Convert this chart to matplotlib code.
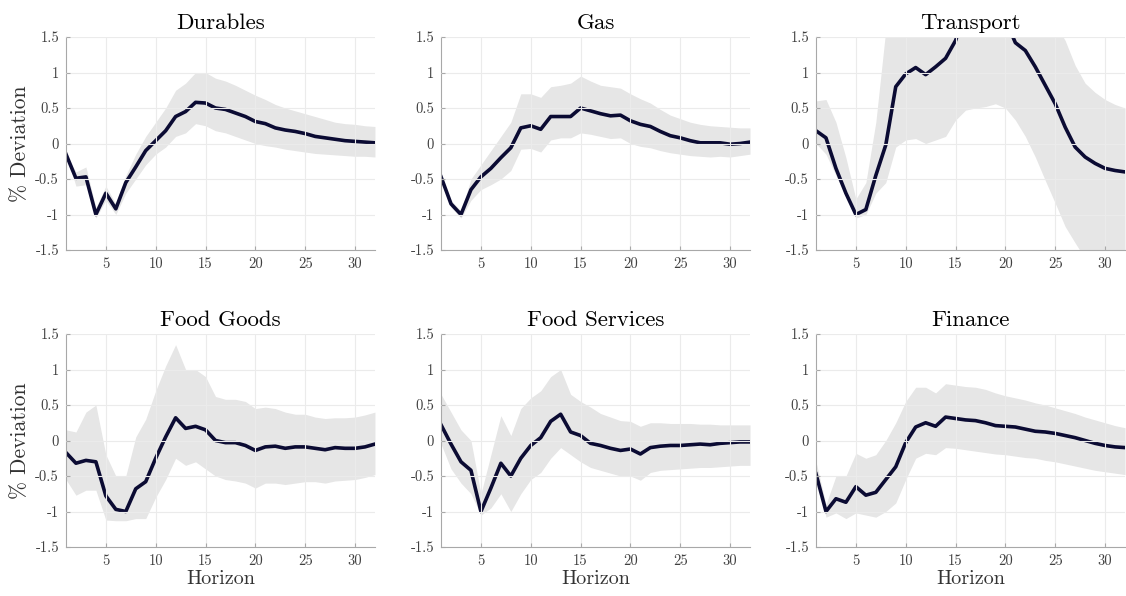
import numpy as np
import matplotlib
matplotlib.use("Agg")
import matplotlib.pyplot as plt

plt.rcParams['font.family'] = ['cmr10', 'DejaVu Serif']
plt.rcParams['axes.unicode_minus'] = False

horizon = np.arange(1, 33)

titles = ["Durables", "Gas", "Transport", "Food Goods", "Food Services", "Finance"]

durables_irf = [-0.15, -0.49, -0.47, -1.0, -0.7, -0.92, -0.55, -0.33, -0.1, 0.04, 0.18, 0.38,
                0.45, 0.58, 0.57, 0.5, 0.48, 0.43, 0.38, 0.31, 0.28, 0.22, 0.19, 0.17,
                0.14, 0.1, 0.08, 0.06, 0.04, 0.03, 0.02, 0.01]
durables_hi = [-0.15, -0.4, -0.33, -0.9, -0.6, -0.85, -0.45, -0.15, 0.1, 0.3, 0.5, 0.75,
               0.85, 1.0, 1.0, 0.92, 0.88, 0.82, 0.75, 0.68, 0.62, 0.55, 0.5, 0.46,
               0.42, 0.38, 0.34, 0.3, 0.28, 0.27, 0.25, 0.24]
durables_lo = [-0.15, -0.6, -0.58, -1.05, -0.8, -1.0, -0.7, -0.5, -0.3, -0.15, -0.05, 0.1,
               0.15, 0.28, 0.25, 0.18, 0.15, 0.1, 0.05, 0.0, -0.03, -0.05, -0.08, -0.1,
               -0.12, -0.14, -0.15, -0.16, -0.17, -0.18, -0.18, -0.19]

gas_irf = [-0.47, -0.85, -1.0, -0.65, -0.47, -0.35, -0.2, -0.06, 0.22, 0.25, 0.2, 0.38,
           0.38, 0.38, 0.5, 0.46, 0.42, 0.39, 0.4, 0.32, 0.27, 0.24, 0.17, 0.11,
           0.08, 0.04, 0.01, 0.01, 0.01, -0.01, 0.0, 0.02]
gas_hi = [-0.47, -0.8, -0.95, -0.5, -0.3, -0.1, 0.1, 0.3, 0.7, 0.7, 0.65, 0.8,
          0.82, 0.85, 0.95, 0.88, 0.82, 0.8, 0.78, 0.7, 0.63, 0.57, 0.48, 0.4,
          0.35, 0.3, 0.27, 0.25, 0.24, 0.23, 0.22, 0.22]
gas_lo = [-0.47, -0.9, -1.05, -0.8, -0.65, -0.58, -0.5, -0.38, -0.08, -0.07, -0.12, 0.05,
          0.08, 0.08, 0.15, 0.13, 0.1, 0.07, 0.08, 0.0, -0.04, -0.06, -0.1, -0.13,
          -0.15, -0.17, -0.18, -0.19, -0.18, -0.19, -0.17, -0.15]

transport_irf = [0.18, 0.08, -0.35, -0.7, -1.0, -0.93, -0.45, -0.02, 0.8, 0.98, 1.07, 0.97,
                 1.08, 1.2, 1.45, 1.85, 2.0, 2.1, 2.0, 1.75, 1.42, 1.31, 1.08, 0.82,
                 0.56, 0.23, -0.05, -0.19, -0.28, -0.35, -0.38, -0.4]
transport_hi = [0.6, 0.62, 0.3, -0.2, -0.78, -0.55, 0.3, 1.6, 2.3, 2.5, 2.7, 2.8,
                2.9, 3.0, 3.1, 3.2, 3.2, 3.2, 3.1, 3.0, 2.8, 2.5, 2.2, 1.95,
                1.7, 1.45, 1.1, 0.85, 0.72, 0.62, 0.55, 0.5]
transport_lo = [0.0, -0.15, -0.45, -0.75, -1.05, -1.0, -0.7, -0.55, -0.05, 0.05, 0.07, 0.0,
                0.05, 0.1, 0.33, 0.47, 0.5, 0.52, 0.56, 0.5, 0.33, 0.1, -0.19, -0.52,
                -0.84, -1.17, -1.4, -1.62, -1.85, -2.05, -2.2, -2.3]

foodgoods_irf = [-0.17, -0.32, -0.28, -0.3, -0.78, -0.97, -1.0, -0.68, -0.58, -0.25, 0.05, 0.32,
                 0.17, 0.2, 0.15, 0.0, -0.03, -0.03, -0.07, -0.14, -0.09, -0.08, -0.11, -0.09,
                 -0.09, -0.11, -0.13, -0.1, -0.11, -0.11, -0.09, -0.05]
foodgoods_hi = [0.15, 0.12, 0.4, 0.5, -0.2, -0.5, -0.5, 0.05, 0.3, 0.7, 1.05, 1.35,
                1.0, 1.0, 0.9, 0.62, 0.58, 0.58, 0.55, 0.45, 0.47, 0.45, 0.4, 0.37,
                0.37, 0.33, 0.31, 0.32, 0.32, 0.33, 0.36, 0.4]
foodgoods_lo = [-0.55, -0.77, -0.7, -0.7, -1.12, -1.13, -1.13, -1.1, -1.1, -0.8, -0.55, -0.25,
                -0.35, -0.3, -0.4, -0.5, -0.55, -0.57, -0.6, -0.67, -0.6, -0.6, -0.62, -0.6,
                -0.58, -0.58, -0.6, -0.57, -0.56, -0.55, -0.52, -0.48]

foodserv_irf = [0.22, -0.05, -0.3, -0.42, -1.0, -0.67, -0.32, -0.5, -0.25, -0.07, 0.04, 0.27,
                0.37, 0.12, 0.07, -0.04, -0.07, -0.11, -0.14, -0.12, -0.19, -0.1, -0.08, -0.07,
                -0.07, -0.06, -0.05, -0.06, -0.04, -0.03, -0.02, -0.02]
foodserv_hi = [0.65, 0.4, 0.15, 0.0, -0.75, -0.2, 0.35, 0.07, 0.45, 0.6, 0.7, 0.9,
               1.0, 0.65, 0.55, 0.47, 0.38, 0.33, 0.28, 0.27, 0.2, 0.25, 0.25, 0.24,
               0.24, 0.24, 0.23, 0.23, 0.22, 0.22, 0.22, 0.22]
foodserv_lo = [-0.05, -0.4, -0.6, -0.75, -1.05, -0.95, -0.75, -1.0, -0.75, -0.55, -0.45, -0.25,
               -0.1, -0.2, -0.3, -0.38, -0.42, -0.46, -0.5, -0.5, -0.56, -0.45, -0.42, -0.41,
               -0.4, -0.39, -0.38, -0.38, -0.37, -0.36, -0.35, -0.35]

finance_irf = [-0.47, -1.0, -0.82, -0.87, -0.65, -0.77, -0.73, -0.55, -0.37, -0.03, 0.19, 0.25,
               0.2, 0.33, 0.31, 0.29, 0.28, 0.25, 0.21, 0.2, 0.19, 0.16, 0.13, 0.12,
               0.1, 0.07, 0.04, 0.0, -0.04, -0.07, -0.09, -0.1]
finance_hi = [-0.3, -0.9, -0.5, -0.5, -0.18, -0.25, -0.2, 0.0, 0.25, 0.55, 0.75, 0.75,
              0.67, 0.8, 0.78, 0.76, 0.75, 0.72, 0.67, 0.63, 0.6, 0.57, 0.53, 0.5,
              0.46, 0.42, 0.38, 0.33, 0.29, 0.25, 0.21, 0.18]
finance_lo = [-0.47, -1.08, -1.02, -1.1, -1.02, -1.05, -1.08, -1.0, -0.88, -0.55, -0.25, -0.18,
              -0.2, -0.1, -0.11, -0.13, -0.15, -0.17, -0.19, -0.2, -0.22, -0.24, -0.25, -0.28,
              -0.3, -0.33, -0.36, -0.39, -0.42, -0.44, -0.46, -0.48]

irfs = [durables_irf, gas_irf, transport_irf, foodgoods_irf, foodserv_irf, finance_irf]
his = [durables_hi, gas_hi, transport_hi, foodgoods_hi, foodserv_hi, finance_hi]
los = [durables_lo, gas_lo, transport_lo, foodgoods_lo, foodserv_lo, finance_lo]

xticks = [5, 10, 15, 20, 25, 30]
yticks = [-1.5, -1, -0.5, 0, 0.5, 1, 1.5]
ytick_labels = ["-1.5", "-1", "-0.5", "0", "0.5", "1", "1.5"]

fig = plt.figure(figsize=(11.26, 5.96), dpi=100)

lefts = [0.0586, 0.3917, 0.7247]
bottoms = [0.5805, 0.0822]
w, h = 0.2744, 0.3574

for i in range(6):
    row, col = divmod(i, 3)
    ax = fig.add_axes([lefts[col], bottoms[row], w, h])
    ax.fill_between(horizon, los[i], his[i], color="#e6e6e6", linewidth=0)
    ax.plot(horizon, irfs[i], color="#0b0b33", linewidth=2.6)
    ax.set_xlim(1, 32)
    ax.set_ylim(-1.5, 1.5)
    ax.set_xticks(xticks)
    ax.set_xticklabels([str(t) for t in xticks])
    ax.set_yticks(yticks)
    ax.set_yticklabels(ytick_labels)
    ax.grid(True, color="#ebebeb", linewidth=0.8)
    ax.set_axisbelow(False)
    for s in ["top", "right"]:
        ax.spines[s].set_visible(False)
    for s in ["left", "bottom"]:
        ax.spines[s].set_color("#a8a8a8")
        ax.spines[s].set_linewidth(0.8)
    ax.tick_params(direction="in", length=3, color="#a8a8a8", labelsize=10.5,
                   labelcolor="#404040", pad=5)
    ax.set_title(titles[i], fontsize=16.5, pad=6)
    if col == 0:
        ax.set_ylabel("% Deviation", fontsize=15.5, labelpad=4, color="#333333")
    if row == 1:
        ax.set_xlabel("Horizon", fontsize=14.5, labelpad=2, color="#333333")

fig.savefig("out.png", dpi=100)
